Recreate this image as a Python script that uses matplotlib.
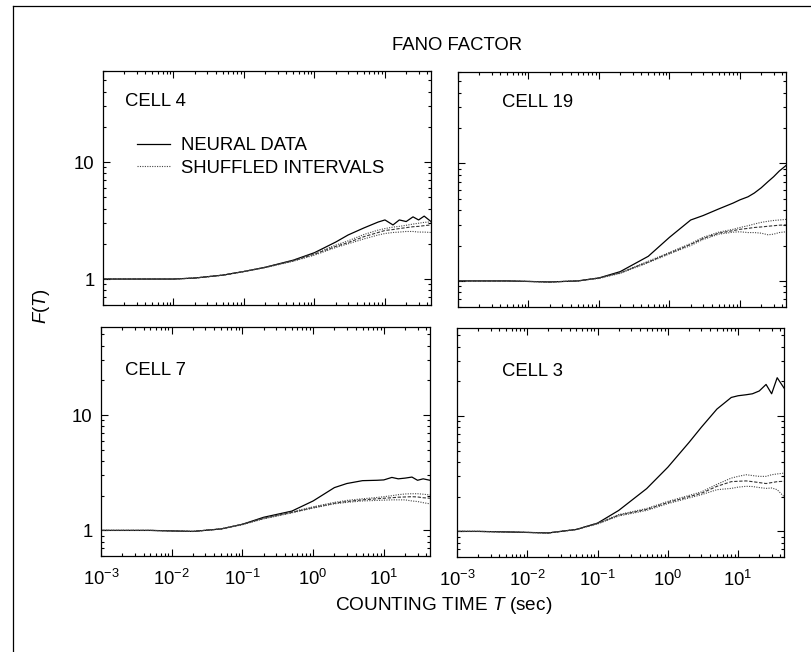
"""
Fano factor F(T) vs counting time, four cells
"""
import numpy as np
import matplotlib
matplotlib.use('Agg')
import matplotlib.pyplot as plt
from matplotlib.lines import Line2D
from matplotlib.ticker import LogLocator, FixedLocator, NullFormatter

plt.rcParams['font.family'] = ['Liberation Sans', 'DejaVu Sans']
plt.rcParams['mathtext.fontset'] = 'custom'
plt.rcParams['mathtext.rm'] = 'Liberation Sans'
plt.rcParams['mathtext.it'] = 'Liberation Sans:italic'

# counting times (sec)
T = [0.001, 0.002, 0.005, 0.01, 0.02, 0.05, 0.1, 0.2, 0.5, 1, 2, 3, 5, 8,
     10, 13, 16, 20, 25, 30, 36, 45]

# cell 4
cell4_neural = [1.0, 1.0, 1.0, 1.0, 1.02, 1.08, 1.16, 1.26, 1.45, 1.68, 2.07, 2.38,
                2.73, 3.07, 3.2, 2.9, 3.2, 3.1, 3.4, 3.2, 3.45, 3.1]
cell4_upper = [1.0, 1.0, 1.0, 1.0, 1.02, 1.08, 1.16, 1.26, 1.44, 1.66, 1.95, 2.12,
               2.4, 2.62, 2.7, 2.78, 2.82, 2.88, 2.95, 3.0, 3.05, 3.08]
cell4_mean = [1.0, 1.0, 1.0, 1.0, 1.02, 1.08, 1.16, 1.26, 1.43, 1.63, 1.9, 2.05,
              2.3, 2.5, 2.6, 2.65, 2.7, 2.75, 2.8, 2.82, 2.86, 2.9]
cell4_lower = [1.0, 1.0, 1.0, 1.0, 1.02, 1.08, 1.16, 1.25, 1.42, 1.6, 1.86, 2.0,
               2.2, 2.38, 2.45, 2.5, 2.52, 2.55, 2.55, 2.52, 2.52, 2.5]

# cell 19
cell19_neural = [1.0, 1.0, 1.0, 0.99, 0.98, 1.0, 1.06, 1.2, 1.62, 2.35, 3.3, 3.6,
                 4.1, 4.6, 4.9, 5.2, 5.6, 6.2, 7.0, 7.7, 8.6, 9.6]
cell19_upper = [1.0, 1.0, 1.0, 0.99, 0.98, 1.0, 1.06, 1.18, 1.47, 1.75, 2.08, 2.35,
                2.6, 2.75, 2.85, 2.95, 3.05, 3.15, 3.22, 3.27, 3.3, 3.34]
cell19_mean = [1.0, 1.0, 1.0, 0.99, 0.98, 1.0, 1.06, 1.17, 1.45, 1.72, 2.05, 2.3,
               2.55, 2.68, 2.75, 2.8, 2.85, 2.88, 2.92, 2.95, 2.98, 3.0]
cell19_lower = [1.0, 1.0, 1.0, 0.99, 0.98, 1.0, 1.05, 1.16, 1.43, 1.7, 2.0, 2.25,
                2.5, 2.6, 2.62, 2.58, 2.58, 2.55, 2.47, 2.5, 2.58, 2.62]

# cell 7
cell7_neural = [1.0, 1.0, 1.0, 0.99, 0.98, 1.03, 1.13, 1.3, 1.47, 1.8, 2.35, 2.55,
                2.7, 2.72, 2.74, 2.88, 2.8, 2.84, 2.9, 2.72, 2.8, 2.72]
cell7_upper = [1.0, 1.0, 1.0, 0.99, 0.98, 1.03, 1.13, 1.28, 1.45, 1.6, 1.75, 1.82,
               1.88, 1.93, 1.96, 2.0, 2.04, 2.07, 2.08, 2.08, 2.06, 2.03]
cell7_mean = [1.0, 1.0, 1.0, 0.99, 0.98, 1.03, 1.13, 1.27, 1.43, 1.58, 1.72, 1.78,
              1.84, 1.88, 1.9, 1.92, 1.94, 1.95, 1.96, 1.95, 1.92, 1.9]
cell7_lower = [1.0, 1.0, 1.0, 0.99, 0.98, 1.03, 1.12, 1.26, 1.42, 1.56, 1.7, 1.75,
               1.8, 1.82, 1.83, 1.84, 1.84, 1.84, 1.8, 1.78, 1.74, 1.7]

# cell 3
cell3_neural = [1.0, 1.0, 0.99, 0.98, 0.97, 1.04, 1.18, 1.52, 2.35, 3.6, 5.9, 8.0,
                11.5, 14.5, 15.0, 15.3, 15.6, 16.5, 18.8, 15.6, 21.5, 17.5]
cell3_upper = [1.0, 1.0, 0.99, 0.98, 0.97, 1.04, 1.18, 1.4, 1.58, 1.82, 2.05, 2.2,
               2.56, 2.9, 3.0, 3.1, 3.05, 3.0, 3.0, 3.1, 3.15, 3.2]
cell3_mean = [1.0, 1.0, 0.99, 0.98, 0.97, 1.04, 1.17, 1.38, 1.55, 1.78, 2.0, 2.14,
              2.46, 2.7, 2.72, 2.74, 2.7, 2.65, 2.6, 2.65, 2.7, 2.72]
cell3_lower = [1.0, 1.0, 0.99, 0.98, 0.97, 1.04, 1.16, 1.36, 1.52, 1.74, 1.95, 2.08,
               2.3, 2.36, 2.42, 2.46, 2.45, 2.4, 2.36, 2.38, 2.3, 2.0]

cell_names = ['CELL 4', 'CELL 19', 'CELL 7', 'CELL 3']
neural = [cell4_neural, cell19_neural, cell7_neural, cell3_neural]
upper = [cell4_upper, cell19_upper, cell7_upper, cell3_upper]
mean = [cell4_mean, cell19_mean, cell7_mean, cell3_mean]
lower = [cell4_lower, cell19_lower, cell7_lower, cell3_lower]

W, H = 812, 652
FS = 13.3
# panel boxes in pixels: x0, x1, y0 (top), y1 (bottom)
boxes = [(103, 431, 71, 305), (458, 786, 72, 307),
         (101, 430, 327, 556), (457, 784, 328, 557)]
ylims = [(0.6, 60), (0.6, 60), (0.6, 58), (0.6, 58)]
label_pos = [(0.067, 0.868), (0.134, 0.872), (0.073, 0.808), (0.138, 0.812)]

fig = plt.figure(figsize=(W / 100, H / 100), dpi=100)

axes = []
for i in range(4):
    x0, x1, y0, y1 = boxes[i]
    ax = fig.add_axes([x0 / W, 1 - y1 / H, (x1 - x0) / W, (y1 - y0) / H])
    ax.plot(T, neural[i], color='black', lw=0.9)
    ax.plot(T, upper[i], color='#444444', lw=0.8, ls=(0, (1, 1.2)))
    ax.plot(T, mean[i], color='#333333', lw=0.8, ls=(0, (3, 1.5)))
    ax.plot(T, lower[i], color='#444444', lw=0.8, ls=(0, (1, 1.2)))
    ax.set_xscale('log')
    ax.set_yscale('log')
    ax.set_xlim(1e-3, 45)
    ax.set_ylim(*ylims[i])

    ax.xaxis.set_major_locator(LogLocator(base=10, numticks=10))
    ax.xaxis.set_minor_locator(LogLocator(base=10, subs=np.arange(2, 10), numticks=20))
    ax.yaxis.set_major_locator(FixedLocator([1, 10]))
    ax.yaxis.set_minor_locator(LogLocator(base=10, subs=np.arange(2, 10), numticks=20))
    ax.yaxis.set_minor_formatter(NullFormatter())
    ax.tick_params(which='both', direction='in', top=True, right=True, width=0.8)
    ax.tick_params(which='major', length=5, labelsize=FS, pad=6)
    ax.tick_params(axis='x', which='major', pad=9)
    ax.tick_params(which='minor', length=2.4)
    if i % 2 == 0:
        ax.set_yticklabels(['1', '10'])
    else:
        ax.tick_params(axis='y', which='both', labelleft=False)
    if i < 2:
        ax.tick_params(axis='x', which='both', labelbottom=False)
    for s in ax.spines.values():
        s.set_linewidth(0.9)

    ax.text(label_pos[i][0], label_pos[i][1], cell_names[i], transform=ax.transAxes,
            fontsize=FS, ha='left', va='center')
    axes.append(ax)

# legend in first panel
handles = [Line2D([], [], color='black', lw=0.9),
           Line2D([], [], color='#444444', lw=0.8, ls=(0, (1, 1.2)))]
axes[0].legend(handles, ['NEURAL DATA', 'SHUFFLED INTERVALS'], frameon=False,
               loc='upper left', bbox_to_anchor=(0.104, 0.718), fontsize=FS,
               handlelength=1.8, handletextpad=0.6, labelspacing=0.3,
               borderpad=0, borderaxespad=0)

fig.text(457 / W, 1 - 46 / H, 'FANO FACTOR', ha='center', va='center', fontsize=FS)
fig.text(444 / W, 1 - 606 / H, 'COUNTING TIME $T$ (sec)', ha='center', va='center',
         fontsize=FS + 0.4)
fig.text(42 / W, 1 - 306 / H, '$F$($T$)', ha='center', va='center', fontsize=FS,
         rotation=90)

# scanned page frame
fig.add_artist(Line2D([13 / W, 13 / W], [0, 1 - 6 / H], color='black', lw=0.9))
fig.add_artist(Line2D([13 / W, 1], [1 - 6 / H, 1 - 6 / H], color='black', lw=0.9))

fig.savefig('out.png', dpi=100)
